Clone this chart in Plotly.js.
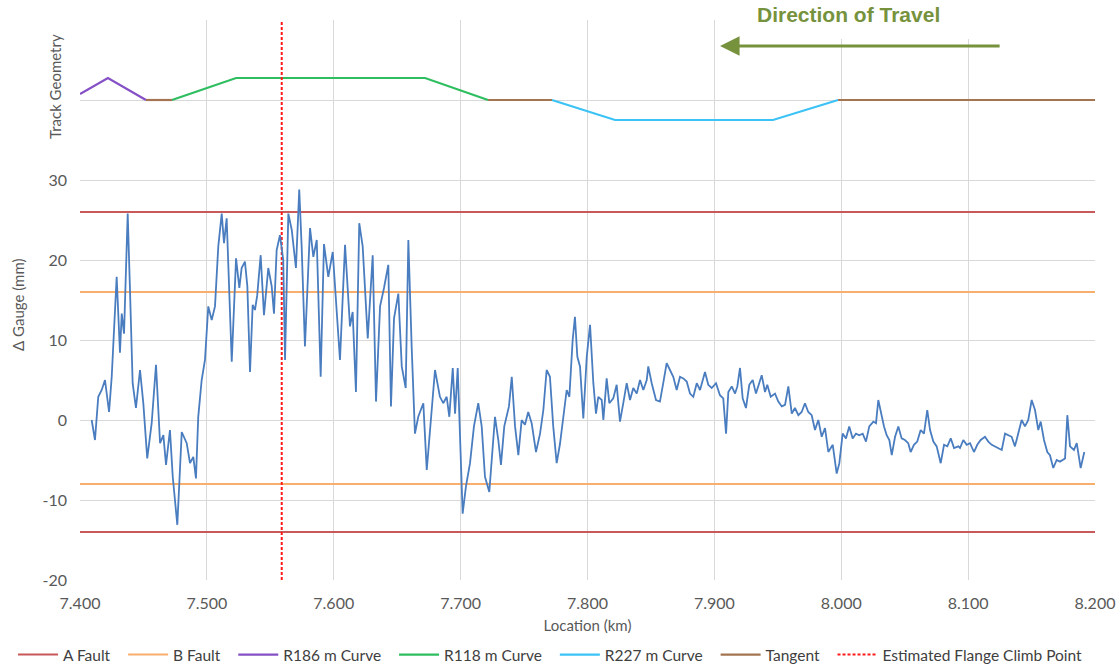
<!DOCTYPE html>
<html>
<head>
<meta charset="utf-8">
<script src="https://cdn.plot.ly/plotly-3.0.1.min.js"></script>
<style>
html,body{margin:0;padding:0;background:#fff;}
#chart{width:1120px;height:668px;}
</style>
</head>
<body>
<div id="chart"></div>
<script>
// ---- data ----
var gaugeKm = [7.4092,7.4118,7.4144,7.4171,7.4197,7.4229,7.4250,7.4289,7.4315,7.4329,7.4347,7.4376,7.4394,7.4415,7.4441,7.4473,7.4499,7.4530,7.4565,7.4599,7.4631,7.4657,7.4678,7.4709,7.4731,7.4767,7.4802,7.4841,7.4867,7.4893,7.4914,7.4932,7.4959,7.4985,7.5011,7.5038,7.5064,7.5090,7.5117,7.5135,7.5156,7.5196,7.5230,7.5256,7.5274,7.5300,7.5319,7.5340,7.5361,7.5379,7.5397,7.5424,7.5450,7.5484,7.5511,7.5529,7.5550,7.5576,7.5602,7.5616,7.5642,7.5669,7.5702,7.5728,7.5747,7.5773,7.5813,7.5839,7.5866,7.5897,7.5923,7.5957,7.5992,7.6023,7.6049,7.6089,7.6128,7.6149,7.6175,7.6201,7.6228,7.6268,7.6307,7.6333,7.6365,7.6396,7.6430,7.6451,7.6475,7.6509,7.6536,7.6567,7.6588,7.6614,7.6640,7.6666,7.6706,7.6733,7.6764,7.6798,7.6837,7.6863,7.6890,7.6911,7.6938,7.6956,7.6977,7.6990,7.7016,7.7042,7.7074,7.7105,7.7139,7.7166,7.7192,7.7226,7.7253,7.7271,7.7297,7.7318,7.7344,7.7363,7.7381,7.7403,7.7429,7.7455,7.7481,7.7507,7.7533,7.7560,7.7594,7.7626,7.7652,7.7678,7.7704,7.7730,7.7757,7.7783,7.7809,7.7836,7.7857,7.7883,7.7901,7.7920,7.7941,7.7967,7.7994,7.8020,7.8046,7.8067,7.8085,7.8112,7.8125,7.8151,7.8172,7.8203,7.8230,7.8256,7.8282,7.8309,7.8335,7.8361,7.8388,7.8414,7.8440,7.8467,7.8479,7.8506,7.8540,7.8571,7.8597,7.8624,7.8650,7.8676,7.8703,7.8729,7.8755,7.8782,7.8808,7.8834,7.8861,7.8887,7.8926,7.8952,7.8979,7.9013,7.9044,7.9070,7.9092,7.9110,7.9137,7.9163,7.9181,7.9202,7.9223,7.9249,7.9275,7.9302,7.9328,7.9354,7.9373,7.9399,7.9417,7.9444,7.9478,7.9504,7.9531,7.9557,7.9583,7.9610,7.9635,7.9662,7.9688,7.9714,7.9740,7.9767,7.9793,7.9819,7.9846,7.9872,7.9898,7.9933,7.9964,7.9985,8.0011,8.0037,8.0063,8.0090,8.0116,8.0142,8.0169,8.0195,8.0221,8.0253,8.0274,8.0292,8.0313,8.0337,8.0358,8.0379,8.0398,8.0424,8.0450,8.0476,8.0502,8.0528,8.0547,8.0573,8.0599,8.0626,8.0652,8.0678,8.0700,8.0726,8.0752,8.0784,8.0810,8.0836,8.0863,8.0889,8.0923,8.0936,8.0962,8.0989,8.1015,8.1046,8.1072,8.1099,8.1133,8.1159,8.1186,8.1212,8.1238,8.1265,8.1291,8.1317,8.1343,8.1369,8.1396,8.1422,8.1448,8.1474,8.1501,8.1527,8.1553,8.1572,8.1598,8.1624,8.1645,8.1671,8.1698,8.1724,8.1764,8.1782,8.1803,8.1834,8.1856,8.1887,8.1916];
var gaugeMm = [0,-2.5,2.9,3.75,5,1,5.4,17.9,8.4,13.3,10.8,25.8,16.25,4.6,1.5,6.25,2.1,-4.8,-0.4,6.9,-2.9,-1.9,-5.6,-1.25,-7.1,-13.1,-1.5,-2.9,-5.4,-4.6,-7.3,0.4,5.0,7.5,14.2,12.5,14.2,21.7,25.8,22.1,25.2,7.3,20.2,16.5,19,19.8,16.7,6,14.4,13.75,15.6,20.6,13.1,19,16.7,13.3,21.25,23.1,20,7.5,25.8,23.75,19,28.8,21.7,9.2,24,20.4,22.5,5.4,22,17.9,21,12.9,7.5,21.9,11.7,13.5,3.5,24.6,21.7,10.2,20.6,2.3,14.2,16.5,19.4,1.7,12.7,15.8,6.7,4,22.5,9.2,-1.7,0.4,2.1,-6.25,0.2,6.25,2.9,2.1,2.9,0.4,6.5,0.8,6.5,0,-11.7,-8.3,-5.4,-0.8,2.1,-0.8,-7.1,-9,-2.9,0.4,-2.5,-5.6,-0.8,0.4,1.7,5.4,-0.8,-4.4,0,-0.6,1,-0.4,-4,-1.7,1.25,6.25,5.4,-0.8,-5.4,-3,0.4,3.75,2.9,10,12.9,7.9,6.7,0.2,7.9,11.9,4.6,0.8,2.9,2.5,0,5.2,2.1,2.7,4.4,-0.2,2.1,4.6,2.5,4,3.3,5,3.75,5,6.7,4.6,2.5,2.3,4.6,7.1,6.25,5.4,3.75,5.4,5.2,4.8,3.3,2.9,4.6,3.75,6,4.4,4,4.6,3.1,2.7,-1.7,3.5,4.2,3.3,4.2,6.5,2.7,1.5,4.4,5,3.3,4.6,5.6,3.5,4.4,2.9,3.3,2.3,1.7,1.9,4.2,0.8,1.5,0.6,1,2.1,1,0.6,-1.25,0,-2.1,-1,-4,-3.1,-6.7,-5.4,-1.7,-2.3,-0.8,-2.3,-1.7,-1.9,-1.7,-2.7,-0.8,-0.2,-0.4,2.5,0.8,-0.8,-1.9,-2.5,-4.4,-2.1,-0.8,-2.3,-2.5,-2.9,-4,-3.1,-2.7,-1.25,-1.7,1.25,-1.25,-2.7,-3.3,-5.4,-3.1,-3.3,-2.3,-3.5,-3.3,-3.5,-2.5,-3.1,-2.9,-4,-3.1,-2.5,-2.1,-2.7,-3.1,-3.3,-3.5,-3.75,-1.7,-1.9,-2.1,-3.3,-1.7,0,-0.8,0,2.5,1.25,-1.25,-0.2,-2.5,-4,-4.4,-6,-5,-5.2,-4.8,0.6,-3.3,-3.75,-2.9,-6,-4];

var xRange = [7.4, 8.2];
var aFaultLevels = [26, -14];
var bFaultLevels = [16, -8];

var r186Km = [7.400, 7.422, 7.452];
var r186Val = [40.75, 42.75, 40];
var r118Km = [7.4725, 7.523, 7.672, 7.7216];
var r118Val = [40, 42.75, 42.75, 40];
var r227Km = [7.772, 7.8217, 7.9462, 7.9975];
var r227Val = [40, 37.5, 37.5, 40];
var tangentKm = [7.452, 7.4725, null, 7.7216, 7.772, null, 7.9975, 8.2];
var tangentVal = [40, 40, null, 40, 40, null, 40, 40];

var flangeClimbKm = 7.559;
var yTickVals = [-20, -10, 0, 10, 20, 30, 40, 50];
var yTickText = ['-20', '-10', '0', '10', '20', '30', '', ''];
var xTickVals = [7.4, 7.5, 7.6, 7.7, 7.8, 7.9, 8.0, 8.1, 8.2];

var arrowTipKm = 7.9045, arrowTailKm = 8.126, arrowLevel = 46.75;

function levelTrace(levels) {
  var x = [], y = [];
  levels.forEach(function (v, i) {
    if (i > 0) { x.push(null); y.push(null); }
    x.push(xRange[0], xRange[1]); y.push(v, v);
  });
  return {x: x, y: y};
}
var aF = levelTrace(aFaultLevels), bF = levelTrace(bFaultLevels);
var pad = '\u00a0\u00a0';

var traces = [
  {x: aF.x, y: aF.y, mode: 'lines', name: 'A Fault' + pad, line: {color: '#C8595A', width: 2}},
  {x: bF.x, y: bF.y, mode: 'lines', name: 'B Fault' + pad, line: {color: '#F7AE6E', width: 2}},
  {x: r186Km, y: r186Val, mode: 'lines', name: 'R186 m Curve' + pad, line: {color: '#8550C6', width: 2.2}},
  {x: r118Km, y: r118Val, mode: 'lines', name: 'R118 m Curve' + pad, line: {color: '#2EBE60', width: 2.2}},
  {x: r227Km, y: r227Val, mode: 'lines', name: 'R227 m Curve' + pad, line: {color: '#3CC3F5', width: 2.2}},
  {x: tangentKm, y: tangentVal, mode: 'lines', name: 'Tangent' + pad, line: {color: '#A47550', width: 2.2}, connectgaps: false},
  {x: [flangeClimbKm, flangeClimbKm], y: [-20, 50], mode: 'lines', name: 'Estimated Flange Climb Point', line: {color: '#FF1A1A', width: 2, dash: '3px,2px'}},
  {x: gaugeKm, y: gaugeMm, mode: 'lines', name: 'Δ Gauge', showlegend: false, line: {color: '#4A7DBF', width: 1.8}}
];

var font = 'Lato, "Liberation Sans", Arial, sans-serif';
var layout = {
  width: 1120, height: 668,
  margin: {l: 80, r: 25, t: 20, b: 88, autoexpand: false},
  paper_bgcolor: '#ffffff', plot_bgcolor: '#ffffff',
  font: {family: font, size: 13, color: '#595959'},
  showlegend: true,
  legend: {orientation: 'h', x: -0.066, xanchor: 'left', y: -0.134, yanchor: 'middle',
           font: {family: font, size: 15.5, color: '#404040'}, itemwidth: 40, traceorder: 'normal'},
  xaxis: {range: xRange, tickvals: xTickVals, tickformat: '.3f', showgrid: true, gridcolor: '#D9D9D9', gridwidth: 1,
          zeroline: false, showline: false, ticks: '', ticklabelstandoff: 12, automargin: false,
          tickfont: {family: font, size: 16, color: '#595959'},
          title: {text: 'Location (km)', standoff: 9, font: {family: font, size: 15, color: '#595959'}}},
  yaxis: {range: [-20, 50], tickvals: yTickVals, ticktext: yTickText, showgrid: true, gridcolor: '#D9D9D9', gridwidth: 1,
          zeroline: false, showline: false, ticks: '', ticklabelstandoff: 12, automargin: false,
          tickfont: {family: font, size: 16, color: '#595959'}},
  shapes: [
    {type: 'rect', xref: 'paper', yref: 'paper', x0: (737 - 80) / 1015, x1: (1030 - 80) / 1015,
     y0: (580 - 39) / 560, y1: 1.04, fillcolor: '#ffffff', line: {width: 0}, layer: 'above'}
  ],
  annotations: [
    {xref: 'paper', yref: 'paper', x: (18 - 80) / 1015, y: (580 - 305) / 560, xanchor: 'center', yanchor: 'middle',
     text: 'Δ Gauge (mm)', textangle: -90, showarrow: false,
     font: {family: font, size: 15, color: '#595959'}},
    {xref: 'paper', yref: 'paper', x: (55 - 80) / 1015, y: (580 - 87) / 560, xanchor: 'center', yanchor: 'middle',
     text: 'Track Geometry', textangle: -90, showarrow: false,
     font: {family: font, size: 15, color: '#595959'}},
    {xref: 'paper', yref: 'paper', x: (848 - 80) / 1015, xanchor: 'center', y: (580 - 14) / 560, yanchor: 'middle',
     text: '<b>Direction of Travel</b>', showarrow: false,
     font: {family: '"Liberation Sans", Arial, sans-serif', size: 21, color: '#76923C'}},
    {x: arrowTipKm, y: arrowLevel, xref: 'x', yref: 'y', ax: arrowTailKm, ay: arrowLevel, axref: 'x', ayref: 'y',
     text: '', showarrow: true, arrowhead: 2, arrowsize: 1.3, arrowwidth: 3, arrowcolor: '#76923C', standoff: 0}
  ]
};

Plotly.newPlot('chart', traces, layout, {displayModeBar: false, staticPlot: true});
</script>
</body>
</html>
